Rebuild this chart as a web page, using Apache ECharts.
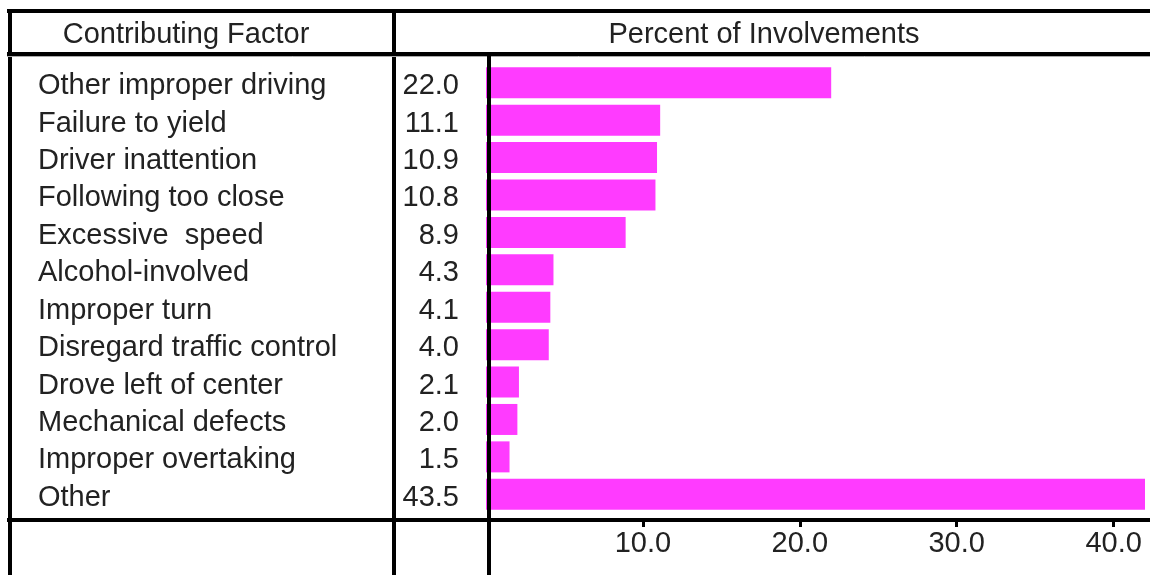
<!DOCTYPE html>
<html>
<head>
<meta charset="utf-8">
<script src="https://cdn.jsdelivr.net/npm/echarts@6/dist/echarts.min.js"></script>
<style>
  html, body { margin: 0; padding: 0; background: #fff; }
  #chart { width: 1150px; height: 575px; }
</style>
</head>
<body>
<div id="chart"></div>
<script>
const factors = [
  'Other improper driving',
  'Failure to yield',
  'Driver inattention',
  'Following too close',
  'Excessive  speed',
  'Alcohol-involved',
  'Improper turn',
  'Disregard traffic control',
  'Drove left of center',
  'Mechanical defects',
  'Improper overtaking',
  'Other'
];
const percents = [22.0, 11.1, 10.9, 10.8, 8.9, 4.3, 4.1, 4.0, 2.1, 2.0, 1.5, 43.5];
const xTicks = [10, 20, 30, 40];
const headers = ['Contributing Factor', 'Percent of Involvements'];

const font = 'Liberation Sans, Arial, sans-serif';
const ink = '#222';

const frameLine = (x1, y1, x2, y2, w, c) => ({
  type: 'line',
  z: 100,
  silent: true,
  shape: { x1, y1, x2, y2 },
  style: { stroke: c || '#000', lineWidth: w }
});

const chart = echarts.init(document.getElementById('chart'));
chart.setOption({
  animation: false,
  backgroundColor: '#fff',
  textStyle: { fontFamily: font },
  grid: { left: 486, right: 5, top: 64, height: 449 },
  xAxis: {
    type: 'value',
    min: 0,
    max: 42,
    offset: 7,
    splitLine: { show: false },
    axisLine: { show: false },
    axisTick: {
      show: true,
      length: 7,
      lineStyle: { color: '#000', width: 3 },
      customValues: xTicks
    },
    axisLabel: {
      fontSize: 29,
      color: ink,
      fontFamily: font,
      margin: 9,
      customValues: xTicks,
      formatter: v => v.toFixed(1)
    }
  },
  yAxis: {
    type: 'category',
    inverse: true,
    data: factors,
    axisLine: { show: false },
    axisTick: { show: false },
    axisLabel: {
      interval: 0,
      align: 'left',
      verticalAlign: 'top',
      lineHeight: 7,
      margin: 448,
      fontSize: 29,
      color: ink,
      fontFamily: font
    }
  },
  series: [{
    type: 'bar',
    data: percents,
    barWidth: 31,
    clip: true,
    itemStyle: { color: '#ff3bff' },
    label: {
      show: true,
      position: 'left',
      distance: 27,
      offset: [0, 3.5],
      fontSize: 29,
      color: ink,
      fontFamily: font,
      formatter: p => p.value.toFixed(1)
    }
  }],
  graphic: [
    frameLine(7, 11, 1150, 11, 4),
    frameLine(10, 9, 10, 575, 4),
    frameLine(394, 9, 394, 575, 4),
    frameLine(7, 54, 1150, 54, 4),
    frameLine(7, 56.5, 1150, 56.5, 1, '#aaa'),
    frameLine(489, 54, 489, 575, 4),
    frameLine(7, 520, 1150, 520, 4),
    {
      type: 'text', z: 100, silent: true,
      style: { text: headers[0], x: 186, y: 35, align: 'center', verticalAlign: 'middle',
               fontSize: 29, fontFamily: font, fill: ink }
    },
    {
      type: 'text', z: 100, silent: true,
      style: { text: headers[1], x: 764, y: 35, align: 'center', verticalAlign: 'middle',
               fontSize: 29, fontFamily: font, fill: ink }
    }
  ]
});
</script>
</body>
</html>
